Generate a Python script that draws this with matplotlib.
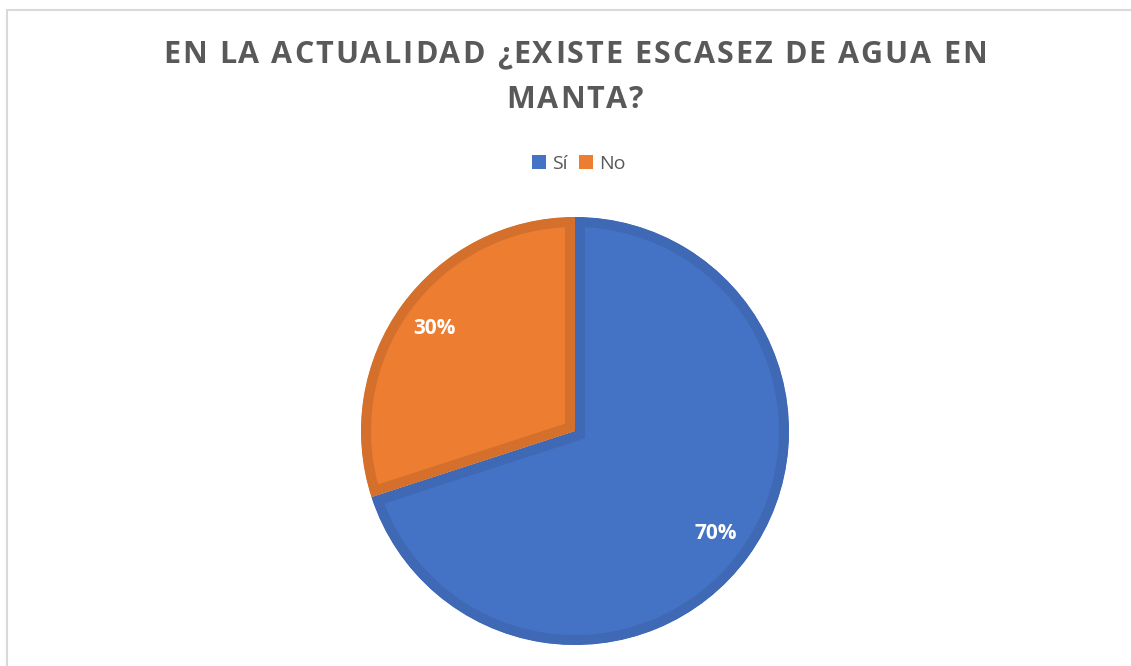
import matplotlib.pyplot as plt
from matplotlib.patches import Rectangle, Patch
from matplotlib.font_manager import FontProperties

# datos
categorias = ['Sí', 'No']
valores = [70, 30]
colores = ['#4472C4', '#ED7D31']
bordes = ['#3F69B5', '#D4702C']
titulo = ['EN LA ACTUALIDAD ¿EXISTE ESCASEZ DE AGUA EN', 'MANTA?']

W, H = 1131, 666
fig = plt.figure(figsize=(W / 100, H / 100), dpi=100)
fig.patch.set_facecolor('white')

# marco del gráfico
fig.add_artist(Rectangle((7 / W, -0.1), 1.2, 1 - 10 / H + 0.1, transform=fig.transFigure,
                         fill=False, edgecolor='#D9D9D9', linewidth=1.5))

# titulo con espaciado entre letras (a mano, letra por letra)
fp = FontProperties(family='Open Sans', weight='bold', size=22)
renderer = fig.canvas.get_renderer()
espacio = 2.0
for linea, yc in zip(titulo, [55, 100]):
    anchos = [renderer.get_text_width_height_descent(ch, fp, ismath=False)[0] for ch in linea]
    total = sum(anchos) + espacio * (len(linea) - 1)
    x = 575 - total / 2
    for ch, a in zip(linea, anchos):
        fig.text(x / W, 1 - yc / H, ch, ha='left', va='center', fontproperties=fp,
                 color='#595959')
        x += a + espacio

# pastel
cx, cy, r = 575, 431, 214
ax = fig.add_axes([(cx - r) / W, (H - cy - r) / H, 2 * r / W, 2 * r / H])
wedges, textos, pcts = ax.pie(valores, colors=colores, startangle=90, counterclock=False,
                              radius=1, autopct='%d%%', pctdistance=174 / 214,
                              textprops=dict(color='white', fontsize=15, fontweight='bold',
                                             family='Open Sans'))
for w, b in zip(wedges, bordes):
    w.set_edgecolor(b)
    w.set_linewidth(14.4)
    w.set_joinstyle('miter')
    w.set_clip_on(True)
    w.set_clip_path(w)
ax.set_xlim(-1, 1)
ax.set_ylim(-1, 1)
ax.axis('off')

# leyenda
handles = [Patch(facecolor=c, edgecolor='none') for c in colores]
fig.legend(handles, categorias, loc='center', bbox_to_anchor=(579 / W, 1 - 164 / H),
           ncol=2, frameon=False, prop=dict(family='Open Sans', size=14),
           labelcolor='#595959', handlelength=0.72, handleheight=0.72,
           handletextpad=0.3, columnspacing=0.6)

fig.savefig('out.png', dpi=100)
